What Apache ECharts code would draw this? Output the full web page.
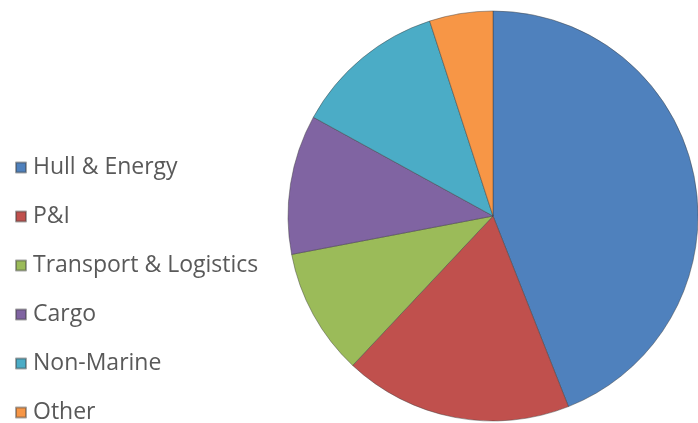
<!DOCTYPE html>
<html>
<head>
<meta charset="utf-8">
<script src="https://cdn.jsdelivr.net/npm/echarts@6/dist/echarts.min.js"></script>
<style>
html,body{margin:0;padding:0;background:#fff;}
#chart{width:698px;height:423px;}
</style>
</head>
<body>
<div id="chart"></div>
<script>
const categories = ["Hull & Energy", "P&I", "Transport & Logistics", "Cargo", "Non-Marine", "Other"];
const values = [44, 18, 10, 11, 12, 5];
const colors = ["#4F81BD", "#C0504D", "#9BBB59", "#8064A2", "#4BACC6", "#F79646"];

const chart = echarts.init(document.getElementById('chart'), null, {renderer: 'canvas'});
chart.setOption({
  animation: false,
  color: colors,
  legend: {
    orient: 'vertical',
    left: 10,
    top: 151,
    height: 300,
    itemWidth: 10,
    itemHeight: 10,
    itemGap: 26,
    icon: 'rect',
    data: categories,
    textStyle: {
      fontFamily: '"Open Sans", sans-serif',
      fontSize: 23,
      color: '#595959',
      lineHeight: 22,
      padding: [0, 0, 0, 2]
    }
  },
  series: [{
    type: 'pie',
    center: [493, 216],
    radius: [0, 205],
    startAngle: 90,
    clockwise: true,
    label: {show: false},
    labelLine: {show: false},
    itemStyle: {borderColor: 'rgba(60,60,60,0.45)', borderWidth: 1},
    emphasis: {disabled: true},
    data: categories.map((c, i) => ({name: c, value: values[i]}))
  }]
});
</script>
</body>
</html>
